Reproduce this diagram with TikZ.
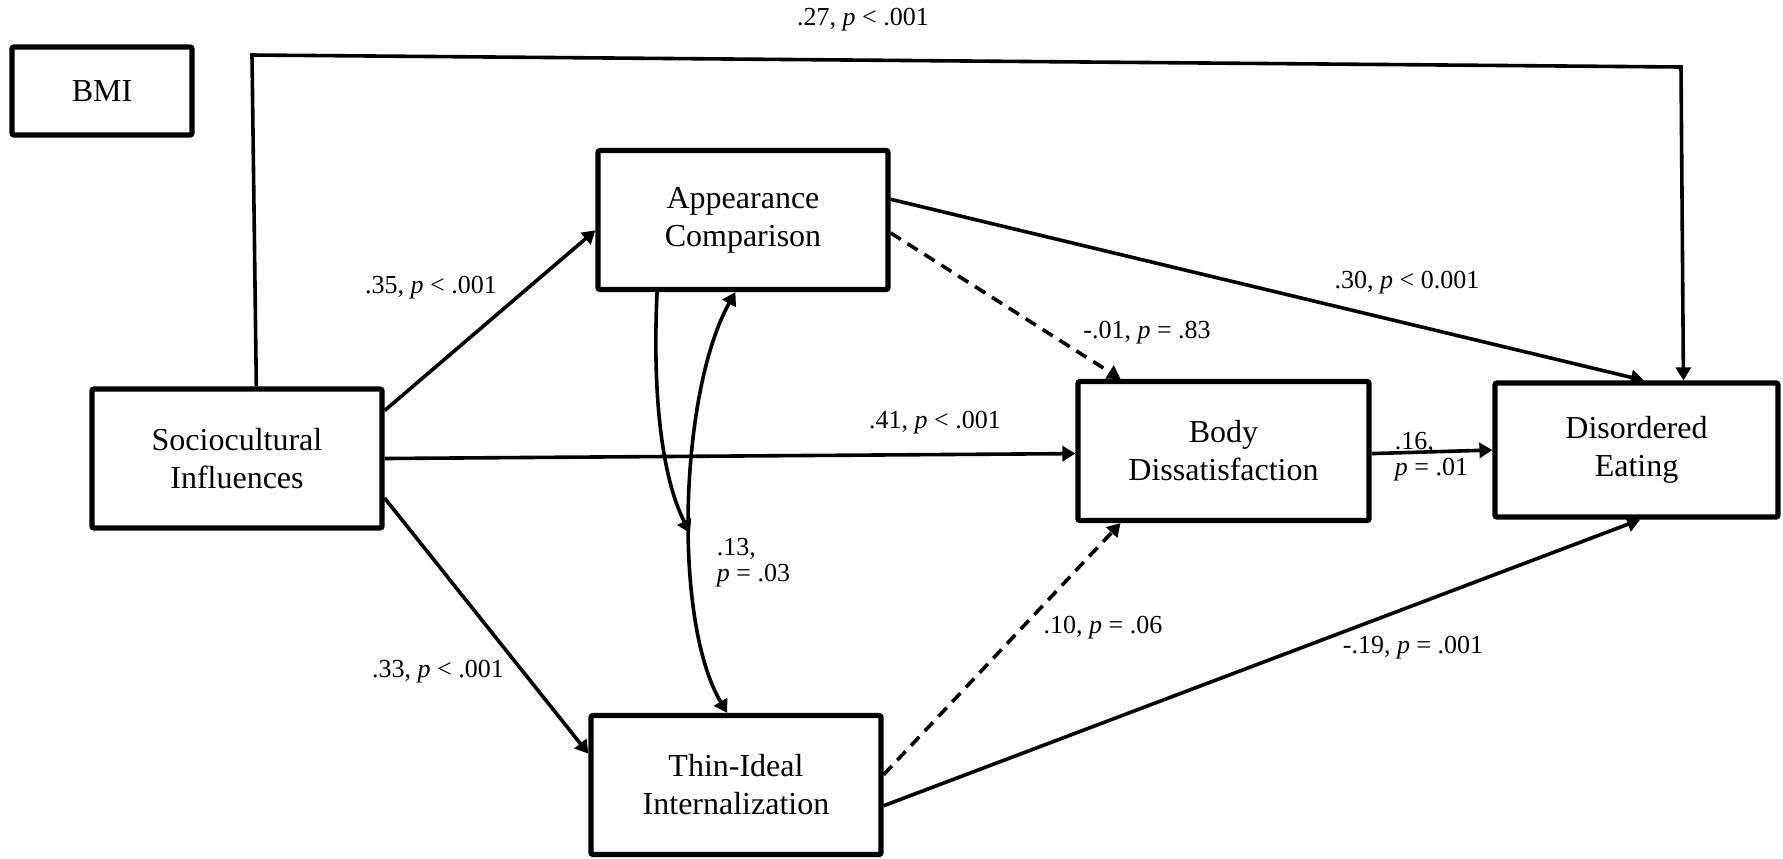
\documentclass[tikz,border=0pt]{standalone}
\usepackage{fontspec}
\setmainfont{Liberation Serif}
\usetikzlibrary{arrows.meta}

\begin{document}
\begin{tikzpicture}[x=0.5pt,y=0.5pt,yscale=-1,xscale=1,
    varbox/.style={draw, line width=2.6pt, rounded corners=1pt, minimum width=145pt, minimum height=69.5pt, inner sep=0pt, align=center, font=\fontsize{16}{19}\selectfont},
    link/.style={line width=1.8pt, -{Triangle[length=6.5pt,width=7.5pt]}},
    nslink/.style={link, dash pattern=on 6pt off 4pt},
    coef/.style={inner sep=0.75pt, font=\fontsize{13}{13}\selectfont}]
\useasboundingbox (0,0) rectangle (1783,858);

%Shape: Rectangle
\node[varbox, minimum width=90pt, minimum height=44pt] (bmi) at (102,91) {BMI};
%Shape: Rectangle
\node[varbox] (socio) at (237,458.5) {Sociocultural\\Influences};
%Shape: Rectangle
\node[varbox] (appcomp) at (743,220) {Appearance\\Comparison};
%Shape: Rectangle
\node[varbox] (thinideal) at (736,785) {Thin-Ideal\\Internalization};
%Shape: Rectangle
\node[varbox, minimum width=145.5pt] (bodydis) at (1223.5,451) {Body\\Dissatisfaction};
%Shape: Rectangle
\node[varbox, minimum width=141.5pt, minimum height=67pt] (diseat) at (1636.5,450) {Disordered\\Eating};

\coordinate (bendL) at (252,55);
\coordinate (bendR) at (1681,67);
\coordinate (covmid) at (690,533);

%Straight Lines
\draw[link] (socio.75.5) -- (bendL) -- (bendR) -- (diseat.56.4);
\draw[link] (socio.18.5) -- (appcomp.184);
\draw[link] (socio.-15) -- (thinideal.168.5);
\draw[link] (socio.east) -- (bodydis.181);
\draw[link] (appcomp.8.5) -- (diseat.84.5);
\draw[nslink] (appcomp.-5) -- (bodydis.145.6);
\draw[link] (bodydis.-1.5) -- (diseat.180.5);
\draw[nslink] (thinideal.4.5) -- (bodydis.215);
\draw[link] (thinideal.-8) -- (diseat.-87);
%Curve Lines
\draw[link] (appcomp.-140) .. controls (652,400) and (663,480) .. (covmid);
\draw[link, {Triangle[length=6.5pt,width=7.5pt]}-{Triangle[length=6.5pt,width=7.5pt]}] (appcomp.-96) .. controls (680,390) and (672,620) .. (thinideal.97);

% Text Node
\node[coef] (c27) at (863,20) {.27, \textit{p} < .001};
% Text Node
\node[coef] (c35) at (431,288) {.35, \textit{p} < .001};
% Text Node
\node[coef] (c41) at (935,423) {.41, \textit{p} < .001};
% Text Node
\node[coef] (c30) at (1407,283) {.30, \textit{p} < 0.001};
% Text Node
\node[coef] (c01) at (1147,333) {-.01, \textit{p} = .83};
% Text Node
\node[coef, anchor=west, align=left] (c16) at (1393,457) {.16,\\\textit{p} = .01};
% Text Node
\node[coef, anchor=west, align=left] (c13) at (715,563) {.13,\\\textit{p} = .03};
% Text Node
\node[coef] (c10) at (1103,628) {.10, \textit{p} = .06};
% Text Node
\node[coef] (c19) at (1413,648) {-.19, \textit{p} = .001};
% Text Node
\node[coef] (c33) at (438,672) {.33, \textit{p} < .001};
\end{tikzpicture}
\end{document}
